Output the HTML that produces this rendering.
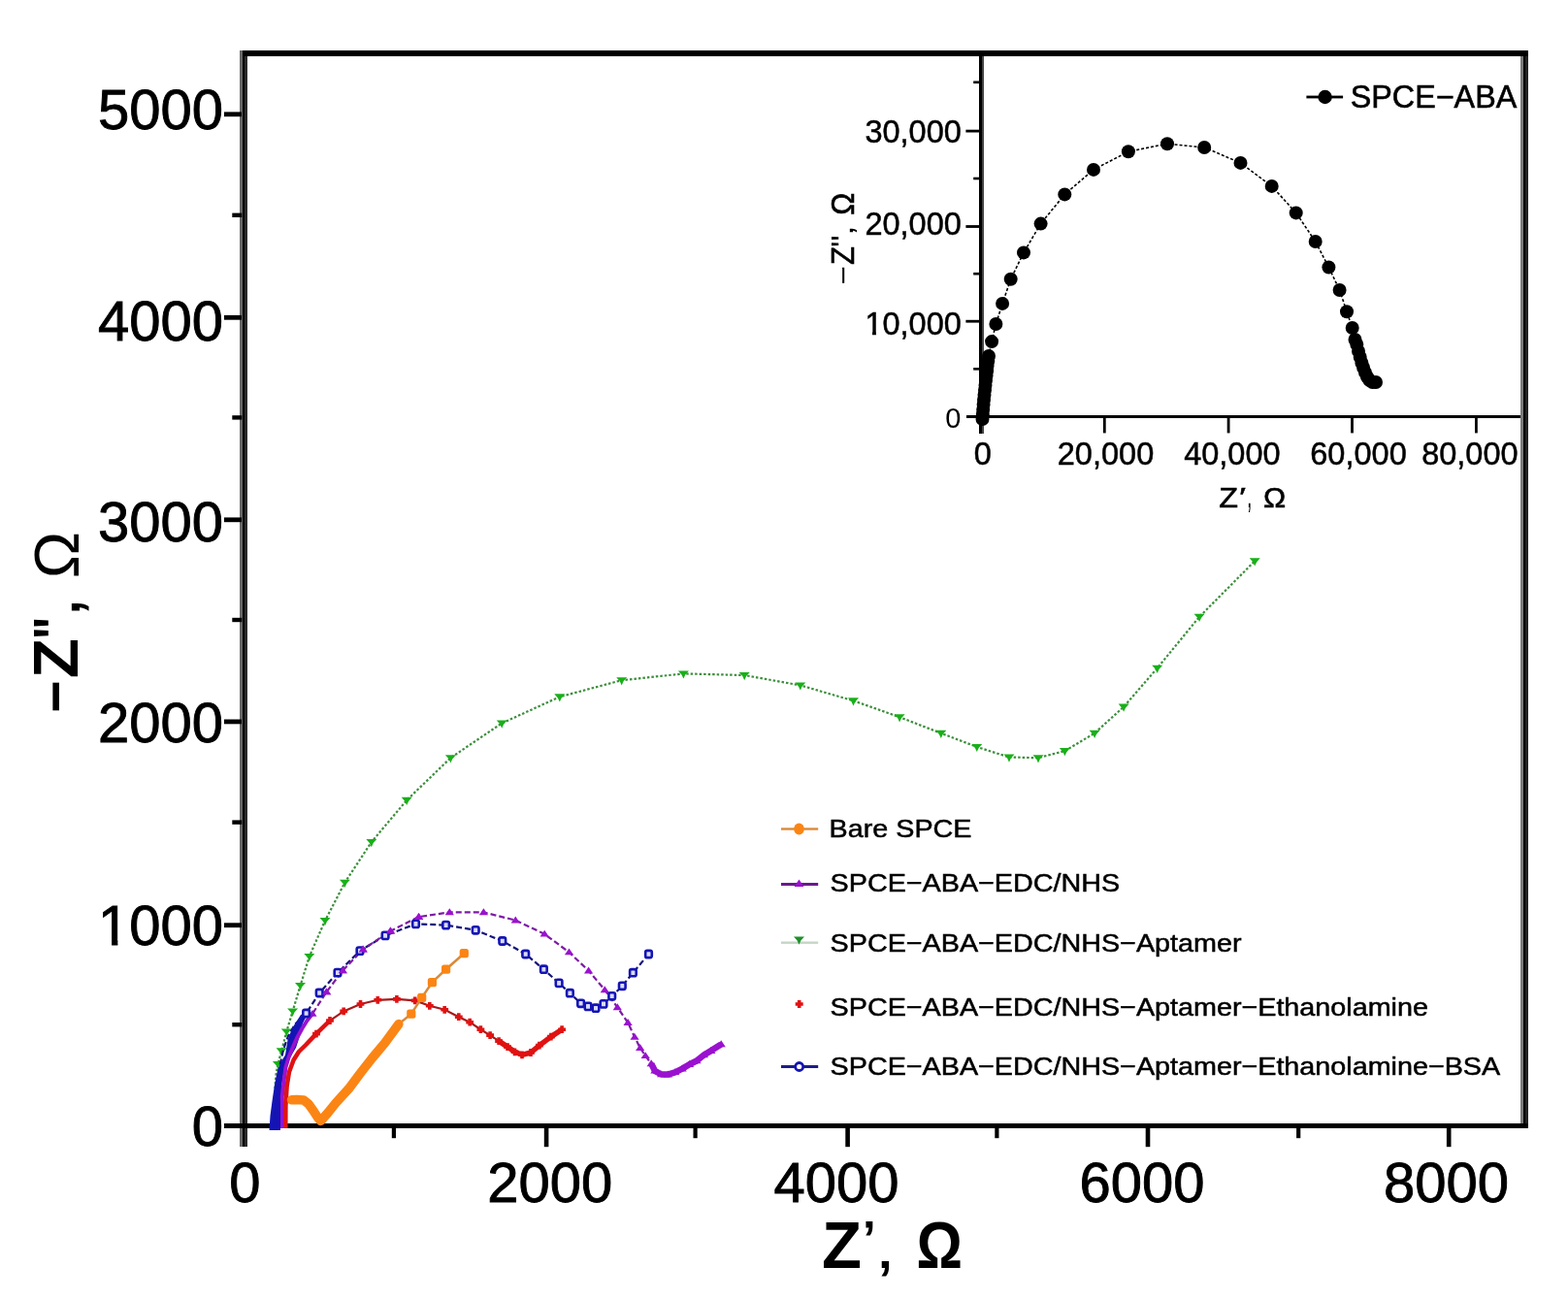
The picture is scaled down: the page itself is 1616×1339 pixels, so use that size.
<!DOCTYPE html>
<html><head><meta charset="utf-8"><title>Nyquist plot</title>
<style>html,body{margin:0;padding:0;background:#fff;overflow:hidden;}svg{display:block;}</style>
</head><body>
<svg width="1616" height="1339" viewBox="0 0 1616 1339">
<rect width="1616" height="1339" fill="#fff"/>
<rect x="247.00" y="52" width="3" height="1130" fill="#666"/><rect x="250.00" y="52" width="2" height="1130" fill="#000"/><rect x="252.00" y="52" width="3" height="1130" fill="#2a2a2a"/>
<rect x="1567.00" y="58" width="3" height="1100" fill="#7a7a7a"/><rect x="1570.00" y="58" width="2" height="1100" fill="#000"/><rect x="1572.00" y="58" width="3" height="1100" fill="#222"/>
<rect x="250" y="52" width="1325" height="6" fill="#000"/>
<rect x="231" y="1158" width="344" height="5" fill="#000"/>
<rect x="231" y="1158" width="1344" height="5" fill="#000"/>
<rect x="231" y="951.3" width="18" height="4.8" fill="#000"/>
<rect x="231" y="741.5" width="18" height="4.8" fill="#000"/>
<rect x="231" y="533.4" width="18" height="4.8" fill="#000"/>
<rect x="231" y="324.9" width="18" height="4.8" fill="#000"/>
<rect x="231" y="115.4" width="18" height="4.8" fill="#000"/>
<rect x="239.3" y="1054.0" width="10" height="4.4" fill="#000"/>
<rect x="239.3" y="845.4" width="10" height="4.4" fill="#000"/>
<rect x="239.3" y="636.8" width="10" height="4.4" fill="#000"/>
<rect x="239.3" y="428.2" width="10" height="4.4" fill="#000"/>
<rect x="239.3" y="219.6" width="10" height="4.4" fill="#000"/>
<rect x="560.8" y="1160" width="4.6" height="22.2" fill="#000"/>
<rect x="871.3" y="1160" width="4.6" height="22.2" fill="#000"/>
<rect x="1180.7" y="1160" width="4.6" height="22.2" fill="#000"/>
<rect x="1490.9" y="1160" width="4.6" height="22.2" fill="#000"/>
<rect x="403.8" y="1160" width="4.2" height="13.2" fill="#000"/>
<rect x="714.5" y="1160" width="4.2" height="13.2" fill="#000"/>
<rect x="1025.3" y="1160" width="4.2" height="13.2" fill="#000"/>
<rect x="1336.1" y="1160" width="4.2" height="13.2" fill="#000"/>
<polyline points="281.5,1158.0 283.3,1124.0 284.5,1107.4 286.4,1097.0 290.1,1083.3 295.3,1063.5 301.6,1042.5 309.5,1016.0 318.8,986.0 335.0,949.0 355.4,909.7 382.8,868.0 419.2,824.8 464.4,781.2 517.2,745.5 576.8,718.3 640.7,701.2 704.4,694.4 767.2,696.0 824.8,706.4 879.5,722.3 927.1,739.2 969.8,755.8 1006.8,769.9 1040.0,780.5 1070.0,781.2 1097.4,774.1 1128.1,755.8 1158.1,728.6 1192.7,688.7 1236.1,635.8 1293.2,578.3" fill="none" stroke="#3c8f3c" stroke-width="2.2" stroke-dasharray="2.5,2"/>
<path d="M280.9,1094.0H291.9L288.3,1098.1L286.4,1102.2L284.5,1098.1Z" fill="#18b018"/>
<path d="M284.6,1080.3H295.6L292.0,1084.4L290.1,1088.5L288.2,1084.4Z" fill="#18b018"/>
<path d="M289.8,1060.5H300.8L297.2,1064.6L295.3,1068.7L293.4,1064.6Z" fill="#18b018"/>
<path d="M296.1,1039.5H307.1L303.5,1043.6L301.6,1047.7L299.7,1043.6Z" fill="#18b018"/>
<path d="M304.0,1013.0H315.0L311.4,1017.1L309.5,1021.2L307.6,1017.1Z" fill="#18b018"/>
<path d="M313.3,983.0H324.3L320.7,987.1L318.8,991.2L316.9,987.1Z" fill="#18b018"/>
<path d="M329.5,946.0H340.5L336.9,950.1L335.0,954.2L333.1,950.1Z" fill="#18b018"/>
<path d="M349.9,906.7H360.9L357.3,910.8L355.4,914.9L353.5,910.8Z" fill="#18b018"/>
<path d="M377.3,865.0H388.3L384.7,869.1L382.8,873.2L380.9,869.1Z" fill="#18b018"/>
<path d="M413.7,821.8H424.7L421.1,825.9L419.2,830.0L417.3,825.9Z" fill="#18b018"/>
<path d="M458.9,778.2H469.9L466.3,782.3L464.4,786.4L462.5,782.3Z" fill="#18b018"/>
<path d="M511.7,742.5H522.7L519.1,746.6L517.2,750.7L515.3,746.6Z" fill="#18b018"/>
<path d="M571.3,715.3H582.3L578.7,719.4L576.8,723.5L574.9,719.4Z" fill="#18b018"/>
<path d="M635.2,698.2H646.2L642.6,702.3L640.7,706.4L638.8,702.3Z" fill="#18b018"/>
<path d="M698.9,691.4H709.9L706.3,695.5L704.4,699.6L702.5,695.5Z" fill="#18b018"/>
<path d="M761.7,693.0H772.7L769.1,697.1L767.2,701.2L765.3,697.1Z" fill="#18b018"/>
<path d="M819.3,703.4H830.3L826.7,707.5L824.8,711.6L822.9,707.5Z" fill="#18b018"/>
<path d="M874.0,719.3H885.0L881.4,723.4L879.5,727.5L877.6,723.4Z" fill="#18b018"/>
<path d="M921.6,736.2H932.6L929.0,740.3L927.1,744.4L925.2,740.3Z" fill="#18b018"/>
<path d="M964.3,752.8H975.3L971.7,756.9L969.8,761.0L967.9,756.9Z" fill="#18b018"/>
<path d="M1001.3,766.9H1012.3L1008.7,771.0L1006.8,775.1L1004.9,771.0Z" fill="#18b018"/>
<path d="M1034.5,777.5H1045.5L1041.9,781.6L1040.0,785.7L1038.1,781.6Z" fill="#18b018"/>
<path d="M1064.5,778.2H1075.5L1071.9,782.3L1070.0,786.4L1068.1,782.3Z" fill="#18b018"/>
<path d="M1091.9,771.1H1102.9L1099.3,775.2L1097.4,779.3L1095.5,775.2Z" fill="#18b018"/>
<path d="M1122.6,752.8H1133.6L1130.0,756.9L1128.1,761.0L1126.2,756.9Z" fill="#18b018"/>
<path d="M1152.6,725.6H1163.6L1160.0,729.7L1158.1,733.8L1156.2,729.7Z" fill="#18b018"/>
<path d="M1187.2,685.7H1198.2L1194.6,689.8L1192.7,693.9L1190.8,689.8Z" fill="#18b018"/>
<path d="M1230.6,632.8H1241.6L1238.0,636.9L1236.1,641.0L1234.2,636.9Z" fill="#18b018"/>
<path d="M1287.7,575.3H1298.7L1295.1,579.4L1293.2,583.5L1291.3,579.4Z" fill="#18b018"/>
<polyline points="282.0,1160.0 284.0,1135.0 286.0,1115.0 288.5,1098.0 292.0,1082.0 297.0,1068.0 304.0,1056.0 315.6,1044.5 329.2,1023.5 348.0,1002.6 371.0,980.1 397.1,964.4 428.5,952.4 459.6,953.6 490.2,958.8 517.8,970.0 541.7,983.5 560.4,999.2 576.1,1013.4 587.4,1023.7 598.6,1034.3 606.0,1037.4 614.0,1039.2 622.0,1034.9 630.7,1026.8 641.3,1016.3 652.4,1002.7 668.5,983.5" fill="none" stroke="#15157a" stroke-width="2.2" stroke-dasharray="6,3"/>
<path d="M277.5,1165 L278.5,1150 L280.5,1135 L283,1118 L286,1103 L290,1094 L294,1087.5 L296.5,1072 L301,1060 L310,1046 L318,1043 L312,1055 L309,1068 L305,1080 L300.6,1087.5 L296,1095 L292.7,1103 L290.5,1118 L290,1134.6 L289,1150 L289,1165 Z" fill="#1414b4"/>
<polyline points="291.0,1163.0 291.0,1140.0 290.8,1130.0 292.5,1115.0 294.5,1100.0 297.5,1090.0 301.6,1080.0 306.0,1070.0 311.5,1060.0 316.5,1052.0 322.0,1045.0 336.5,1022.5 353.2,1000.5 374.1,978.6 402.4,959.7 431.6,945.1 463.3,940.4 498.4,940.4 531.3,948.6 561.2,962.8 586.5,981.5 606.6,1000.6 623.3,1020.4 636.3,1038.4 647.1,1054.1 654.1,1069.0 659.7,1080.1 665.2,1088.3 671.2,1096.4 674.9,1103.8 681.6,1107.5 688.3,1107.6 695.7,1105.3 703.1,1101.6 710.5,1097.2 718.0,1093.5 725.4,1087.5 732.8,1083.1 743.2,1076.4" fill="none" stroke="#7e1aa6" stroke-width="2.2" stroke-dasharray="6,3"/>
<polyline points="291.0,1163.0 291.0,1140.0 290.8,1130.0 292.5,1115.0 294.5,1100.0 297.5,1090.0 301.6,1080.0 306.0,1070.0 311.5,1060.0 316.5,1052.0 322.0,1045.0" fill="none" stroke="#9a12cf" stroke-width="4" stroke-linejoin="round"/>
<polyline points="671.2,1096.4 674.9,1103.8 681.6,1107.5 688.3,1107.6 695.7,1105.3 703.1,1101.6 710.5,1097.2 718.0,1093.5 725.4,1087.5 732.8,1083.1 743.2,1076.4" fill="none" stroke="#9a12cf" stroke-width="6.5" stroke-linejoin="round"/>
<path d="M317.4,1047.8H326.6L322.0,1040.9Z" fill="#9a12cf"/>
<path d="M331.9,1025.3H341.1L336.5,1018.4Z" fill="#9a12cf"/>
<path d="M348.6,1003.3H357.8L353.2,996.4Z" fill="#9a12cf"/>
<path d="M369.5,981.4H378.7L374.1,974.5Z" fill="#9a12cf"/>
<path d="M397.8,962.5H407.0L402.4,955.6Z" fill="#9a12cf"/>
<path d="M427.0,947.9H436.2L431.6,941.0Z" fill="#9a12cf"/>
<path d="M458.7,943.2H467.9L463.3,936.3Z" fill="#9a12cf"/>
<path d="M493.8,943.2H503.0L498.4,936.3Z" fill="#9a12cf"/>
<path d="M526.7,951.4H535.9L531.3,944.5Z" fill="#9a12cf"/>
<path d="M556.6,965.6H565.8L561.2,958.7Z" fill="#9a12cf"/>
<path d="M581.9,984.3H591.1L586.5,977.4Z" fill="#9a12cf"/>
<path d="M602.0,1003.4H611.2L606.6,996.5Z" fill="#9a12cf"/>
<path d="M618.7,1023.2H627.9L623.3,1016.3Z" fill="#9a12cf"/>
<path d="M631.7,1041.2H640.9L636.3,1034.3Z" fill="#9a12cf"/>
<path d="M642.5,1056.9H651.7L647.1,1050.0Z" fill="#9a12cf"/>
<path d="M649.5,1071.8H658.7L654.1,1064.9Z" fill="#9a12cf"/>
<path d="M655.1,1082.9H664.3L659.7,1076.0Z" fill="#9a12cf"/>
<path d="M660.6,1091.1H669.8L665.2,1084.2Z" fill="#9a12cf"/>
<path d="M666.6,1099.2H675.8L671.2,1092.3Z" fill="#9a12cf"/>
<path d="M670.3,1106.6H679.5L674.9,1099.7Z" fill="#9a12cf"/>
<path d="M677.0,1110.3H686.2L681.6,1103.4Z" fill="#9a12cf"/>
<path d="M683.7,1110.4H692.9L688.3,1103.5Z" fill="#9a12cf"/>
<path d="M691.1,1108.1H700.3L695.7,1101.2Z" fill="#9a12cf"/>
<path d="M698.5,1104.4H707.7L703.1,1097.5Z" fill="#9a12cf"/>
<path d="M705.9,1100.0H715.1L710.5,1093.1Z" fill="#9a12cf"/>
<path d="M713.4,1096.3H722.6L718.0,1089.4Z" fill="#9a12cf"/>
<path d="M720.8,1090.3H730.0L725.4,1083.4Z" fill="#9a12cf"/>
<path d="M728.2,1085.9H737.4L732.8,1079.0Z" fill="#9a12cf"/>
<path d="M738.6,1079.2H747.8L743.2,1072.3Z" fill="#9a12cf"/>
<rect x="312.3" y="1040.9" width="6.6" height="7.2" rx="1.8" fill="#d8dafa" stroke="#1414b4" stroke-width="2.6"/>
<rect x="325.9" y="1019.9" width="6.6" height="7.2" rx="1.8" fill="#d8dafa" stroke="#1414b4" stroke-width="2.6"/>
<rect x="344.7" y="999.0" width="6.6" height="7.2" rx="1.8" fill="#d8dafa" stroke="#1414b4" stroke-width="2.6"/>
<rect x="367.7" y="976.5" width="6.6" height="7.2" rx="1.8" fill="#d8dafa" stroke="#1414b4" stroke-width="2.6"/>
<rect x="393.8" y="960.8" width="6.6" height="7.2" rx="1.8" fill="#d8dafa" stroke="#1414b4" stroke-width="2.6"/>
<rect x="425.2" y="948.8" width="6.6" height="7.2" rx="1.8" fill="#d8dafa" stroke="#1414b4" stroke-width="2.6"/>
<rect x="456.3" y="950.0" width="6.6" height="7.2" rx="1.8" fill="#d8dafa" stroke="#1414b4" stroke-width="2.6"/>
<rect x="486.9" y="955.2" width="6.6" height="7.2" rx="1.8" fill="#d8dafa" stroke="#1414b4" stroke-width="2.6"/>
<rect x="514.5" y="966.4" width="6.6" height="7.2" rx="1.8" fill="#d8dafa" stroke="#1414b4" stroke-width="2.6"/>
<rect x="538.4" y="979.9" width="6.6" height="7.2" rx="1.8" fill="#d8dafa" stroke="#1414b4" stroke-width="2.6"/>
<rect x="557.1" y="995.6" width="6.6" height="7.2" rx="1.8" fill="#d8dafa" stroke="#1414b4" stroke-width="2.6"/>
<rect x="572.8" y="1009.8" width="6.6" height="7.2" rx="1.8" fill="#d8dafa" stroke="#1414b4" stroke-width="2.6"/>
<rect x="584.1" y="1020.1" width="6.6" height="7.2" rx="1.8" fill="#d8dafa" stroke="#1414b4" stroke-width="2.6"/>
<rect x="595.3" y="1030.7" width="6.6" height="7.2" rx="1.8" fill="#d8dafa" stroke="#1414b4" stroke-width="2.6"/>
<rect x="602.7" y="1033.8" width="6.6" height="7.2" rx="1.8" fill="#d8dafa" stroke="#1414b4" stroke-width="2.6"/>
<rect x="610.7" y="1035.6" width="6.6" height="7.2" rx="1.8" fill="#d8dafa" stroke="#1414b4" stroke-width="2.6"/>
<rect x="618.7" y="1031.3" width="6.6" height="7.2" rx="1.8" fill="#d8dafa" stroke="#1414b4" stroke-width="2.6"/>
<rect x="627.4" y="1023.2" width="6.6" height="7.2" rx="1.8" fill="#d8dafa" stroke="#1414b4" stroke-width="2.6"/>
<rect x="638.0" y="1012.7" width="6.6" height="7.2" rx="1.8" fill="#d8dafa" stroke="#1414b4" stroke-width="2.6"/>
<rect x="649.1" y="999.1" width="6.6" height="7.2" rx="1.8" fill="#d8dafa" stroke="#1414b4" stroke-width="2.6"/>
<rect x="665.2" y="979.9" width="6.6" height="7.2" rx="1.8" fill="#d8dafa" stroke="#1414b4" stroke-width="2.6"/>
<path d="M331.9,1025.3H341.1L336.5,1018.4Z" fill="#9a12cf"/>
<path d="M348.6,1003.3H357.8L353.2,996.4Z" fill="#9a12cf"/>
<path d="M369.5,981.4H378.7L374.1,974.5Z" fill="#9a12cf"/>
<path d="M397.8,962.5H407.0L402.4,955.6Z" fill="#9a12cf"/>
<path d="M427.0,947.9H436.2L431.6,941.0Z" fill="#9a12cf"/>
<polyline points="294.3,1163.0 294.4,1140.0 295.6,1120.0 298.0,1105.0 302.5,1092.7 308.0,1084.0 315.2,1077.0 326.0,1065.6 340.0,1052.0 354.2,1042.4 371.5,1035.0 389.3,1030.8 408.9,1029.9 427.7,1031.4 442.8,1036.8 458.2,1040.8 472.8,1048.2 484.2,1053.7 495.4,1061.2 505.1,1067.1 514.1,1073.1 523.1,1079.1 530.5,1084.3 538.0,1087.3 547.0,1085.0 555.9,1077.6 567.9,1068.6 579.1,1061.2" fill="none" stroke="#a81a1a" stroke-width="2.2"/>
<polyline points="294.3,1163.0 294.4,1140.0 295.6,1120.0 298.0,1105.0 302.5,1092.7 308.0,1084.0 315.2,1077.0 326.0,1065.6 340.0,1052.0" fill="none" stroke="#e01212" stroke-width="4.5" stroke-linejoin="round"/>
<polyline points="514.1,1073.1 523.1,1079.1 530.5,1084.3 538.0,1087.3 547.0,1085.0 555.9,1077.6 567.9,1068.6 579.1,1061.2" fill="none" stroke="#e01212" stroke-width="5.5" stroke-linejoin="round"/>
<path d="M324.2,1061.7H327.8V1063.8H329.9V1067.4H327.8V1069.5H324.2V1067.4H322.1V1063.8H324.2Z" fill="#e01212"/>
<path d="M338.2,1048.1H341.8V1050.2H343.9V1053.8H341.8V1055.9H338.2V1053.8H336.1V1050.2H338.2Z" fill="#e01212"/>
<path d="M352.4,1038.5H356.0V1040.6H358.1V1044.2H356.0V1046.3H352.4V1044.2H350.3V1040.6H352.4Z" fill="#e01212"/>
<path d="M369.7,1031.1H373.3V1033.2H375.4V1036.8H373.3V1038.9H369.7V1036.8H367.6V1033.2H369.7Z" fill="#e01212"/>
<path d="M387.5,1026.9H391.1V1029.0H393.2V1032.6H391.1V1034.7H387.5V1032.6H385.4V1029.0H387.5Z" fill="#e01212"/>
<path d="M407.1,1026.0H410.7V1028.1H412.8V1031.7H410.7V1033.8H407.1V1031.7H405.0V1028.1H407.1Z" fill="#e01212"/>
<path d="M425.9,1027.5H429.5V1029.6H431.6V1033.2H429.5V1035.3H425.9V1033.2H423.8V1029.6H425.9Z" fill="#e01212"/>
<path d="M441.0,1032.9H444.6V1035.0H446.7V1038.6H444.6V1040.7H441.0V1038.6H438.9V1035.0H441.0Z" fill="#e01212"/>
<path d="M456.4,1036.9H460.0V1039.0H462.1V1042.6H460.0V1044.7H456.4V1042.6H454.3V1039.0H456.4Z" fill="#e01212"/>
<path d="M471.0,1044.3H474.6V1046.4H476.7V1050.0H474.6V1052.1H471.0V1050.0H468.9V1046.4H471.0Z" fill="#e01212"/>
<path d="M482.4,1049.8H486.0V1051.9H488.1V1055.5H486.0V1057.6H482.4V1055.5H480.3V1051.9H482.4Z" fill="#e01212"/>
<path d="M493.6,1057.3H497.2V1059.4H499.3V1063.0H497.2V1065.1H493.6V1063.0H491.5V1059.4H493.6Z" fill="#e01212"/>
<path d="M503.3,1063.2H506.9V1065.3H509.0V1068.9H506.9V1071.0H503.3V1068.9H501.2V1065.3H503.3Z" fill="#e01212"/>
<path d="M512.3,1069.2H515.9V1071.3H518.0V1074.9H515.9V1077.0H512.3V1074.9H510.2V1071.3H512.3Z" fill="#e01212"/>
<path d="M521.3,1075.2H524.9V1077.3H527.0V1080.9H524.9V1083.0H521.3V1080.9H519.2V1077.3H521.3Z" fill="#e01212"/>
<path d="M528.7,1080.4H532.3V1082.5H534.4V1086.1H532.3V1088.2H528.7V1086.1H526.6V1082.5H528.7Z" fill="#e01212"/>
<path d="M536.2,1083.4H539.8V1085.5H541.9V1089.1H539.8V1091.2H536.2V1089.1H534.1V1085.5H536.2Z" fill="#e01212"/>
<path d="M545.2,1081.1H548.8V1083.2H550.9V1086.8H548.8V1088.9H545.2V1086.8H543.1V1083.2H545.2Z" fill="#e01212"/>
<path d="M554.1,1073.7H557.7V1075.8H559.8V1079.4H557.7V1081.5H554.1V1079.4H552.0V1075.8H554.1Z" fill="#e01212"/>
<path d="M566.1,1064.7H569.7V1066.8H571.8V1070.4H569.7V1072.5H566.1V1070.4H564.0V1066.8H566.1Z" fill="#e01212"/>
<path d="M577.3,1057.3H580.9V1059.4H583.0V1063.0H580.9V1065.1H577.3V1063.0H575.2V1059.4H577.3Z" fill="#e01212"/>
<polyline points="300.5,1133.7 306.0,1133.5 313.0,1134.0 318.0,1138.0 323.0,1145.0 327.5,1152.0 330.5,1155.5 338.0,1147.0 346.1,1136.9 359.4,1122.3 371.1,1106.6 383.4,1090.9 396.5,1075.2 410.9,1055.6 423.8,1045.2 434.7,1028.4 445.4,1012.6 459.6,999.2 478.3,982.7" fill="none" stroke="#d98a3a" stroke-width="2.5"/>
<polyline points="300.5,1133.7 306.0,1133.5 313.0,1134.0 318.0,1138.0 323.0,1145.0 327.5,1152.0 330.5,1155.5 338.0,1147.0 346.1,1136.9 359.4,1122.3 371.1,1106.6 383.4,1090.9 396.5,1075.2 410.9,1055.6" fill="none" stroke="#fb8514" stroke-width="9.5" stroke-linejoin="round" stroke-linecap="round"/>
<rect x="419.2" y="1040.6" width="9.2" height="9.2" rx="2.5" fill="#fb8514"/>
<rect x="430.1" y="1023.8" width="9.2" height="9.2" rx="2.5" fill="#fb8514"/>
<rect x="440.8" y="1008.0" width="9.2" height="9.2" rx="2.5" fill="#fb8514"/>
<rect x="455.0" y="994.6" width="9.2" height="9.2" rx="2.5" fill="#fb8514"/>
<rect x="473.7" y="978.1" width="9.2" height="9.2" rx="2.5" fill="#fb8514"/>
<g font-family='"Liberation Sans", Arial, Helvetica, sans-serif' fill="#000">
<text x="230.1" y="1181.2" font-size="58" text-anchor="end" stroke="#000" stroke-width="0.9">0</text>
<clipPath id="c1a"><path clip-rule="evenodd" d="M0,0H1616V1339H0Z M103.59,968.24H115.11V976.90H103.59Z M121.33,968.24H132.27V976.90H121.33Z"/></clipPath>
<text x="230.1" y="973.9" font-size="58" text-anchor="end" stroke="#000" stroke-width="0.9" clip-path="url(#c1a)">1000</text>
<text x="230.1" y="764.6" font-size="58" text-anchor="end" stroke="#000" stroke-width="0.9">2000</text>
<text x="230.1" y="557.6" font-size="58" text-anchor="end" stroke="#000" stroke-width="0.9">3000</text>
<text x="230.1" y="350.6" font-size="58" text-anchor="end" stroke="#000" stroke-width="0.9">4000</text>
<text x="230.1" y="132.8" font-size="58" text-anchor="end" stroke="#000" stroke-width="0.9">5000</text>
<text x="252.3" y="1238.9" font-size="58" text-anchor="middle" stroke="#000" stroke-width="0.9">0</text>
<text x="566.7" y="1238.9" font-size="58" text-anchor="middle" stroke="#000" stroke-width="0.9">2000</text>
<text x="862.1" y="1238.9" font-size="58" text-anchor="middle" stroke="#000" stroke-width="0.9">4000</text>
<text x="1177" y="1238.9" font-size="58" text-anchor="middle" stroke="#000" stroke-width="0.9">6000</text>
<text x="1490.5" y="1238.9" font-size="58" text-anchor="middle" stroke="#000" stroke-width="0.9">8000</text>
<text transform="translate(846.89,1306.90) scale(0.9866,1.0124)" font-size="68" font-weight="bold">Z</text>
<text transform="translate(889.05,1294.89) scale(0.7248,0.7563)" font-size="68" font-weight="bold">’</text>
<text transform="translate(901.40,1307.26) scale(1.1455,0.9463)" font-size="68">,</text>
<text transform="translate(944.53,1306.90) scale(0.8701,0.9979)" font-size="68" font-weight="bold">Ω</text>
<text transform="translate(72.47,736.82) rotate(-90) scale(1.7647,0.8724)" font-size="64" font-weight="bold">-</text>
<text transform="translate(80.40,699.33) rotate(-90) scale(1.0568,1.0190)" font-size="64" font-weight="bold">Z</text>
<text transform="translate(75.97,659.26) rotate(-90) scale(0.7835,0.9188)" font-size="64" font-weight="bold">&quot;</text>
<text transform="translate(81.50,636.70) rotate(-90) scale(1.2171,1.1753)" font-size="64">,</text>
<text transform="translate(80.70,596.21) rotate(-90) scale(1.0109,1.0067)" font-size="64">Ω</text>
<text transform="translate(854.61,863.1) scale(1.0890,1)" font-size="26.4" stroke="#000" stroke-width="0.5">Bare SPCE</text>
<text transform="translate(855.56,919.3) scale(1.0890,1)" font-size="26.4" stroke="#000" stroke-width="0.5">SPCE&#8722;ABA&#8722;EDC/NHS</text>
<text transform="translate(855.56,981.0) scale(1.0890,1)" font-size="26.4" stroke="#000" stroke-width="0.5">SPCE&#8722;ABA&#8722;EDC/NHS&#8722;Aptamer</text>
<text transform="translate(855.56,1047.1) scale(1.0890,1)" font-size="26.4" stroke="#000" stroke-width="0.5">SPCE&#8722;ABA&#8722;EDC/NHS&#8722;Aptamer&#8722;Ethanolamine</text>
<text transform="translate(855.56,1107.7) scale(1.0890,1)" font-size="26.4" stroke="#000" stroke-width="0.5">SPCE&#8722;ABA&#8722;EDC/NHS&#8722;Aptamer&#8722;Ethanolamine&#8722;BSA</text>
</g>
<rect x="805" y="853.3" width="38.2" height="2.4" fill="#d98a3a"/>
<ellipse cx="823.5" cy="854.5" rx="5.3" ry="6" fill="#fb8514"/>
<rect x="805" y="910.0" width="38.2" height="3" fill="#6a1a8e"/>
<path d="M818.5,914.0H828.5L823.5,906.5Z" fill="#9a12cf"/>
<rect x="805" y="970.5" width="38.2" height="2.4" fill="#c6d6c6"/>
<path d="M818.0,965.5H829.0L825.4,969.6L823.5,973.7L821.6,969.6Z" fill="#1f8f2a"/>
<path d="M821.9,1031.0H825.5V1033.2H827.7V1036.8H825.5V1039.0H821.9V1036.8H819.7V1033.2H821.9Z" fill="#e01212"/>
<rect x="805" y="1098.0" width="38.2" height="3" fill="#1c1c8a"/>
<circle cx="823.7" cy="1099.5" r="4" fill="#fff" stroke="#1414b4" stroke-width="2.8"/>
<rect x="1009.00" y="58" width="3" height="389" fill="#000"/><rect x="1012.00" y="58" width="2" height="389" fill="#444"/>
<rect x="996" y="428" width="571" height="3" fill="#000"/>
<rect x="995.4" y="329.8" width="15" height="2.8" fill="#000"/>
<rect x="995.4" y="232.1" width="15" height="2.8" fill="#000"/>
<rect x="995.4" y="133.7" width="15" height="2.8" fill="#000"/>
<rect x="1003.2" y="379.0" width="7" height="2.6" fill="#000"/>
<rect x="1003.2" y="280.9" width="7" height="2.6" fill="#000"/>
<rect x="1003.2" y="182.7" width="7" height="2.6" fill="#000"/>
<rect x="1003.2" y="83.5" width="7" height="2.6" fill="#000"/>
<rect x="1136.9" y="429" width="2.8" height="17.4" fill="#000"/>
<rect x="1264.7" y="429" width="2.8" height="17.4" fill="#000"/>
<rect x="1392.1" y="429" width="2.8" height="17.4" fill="#000"/>
<rect x="1520.0" y="429" width="2.8" height="17.4" fill="#000"/>
<polyline points="1012.5,432.0 1012.8,427.0 1013.2,422.0 1013.6,417.0 1014.0,412.0 1014.5,407.0 1015.0,402.0 1015.5,397.0 1016.0,392.0 1016.6,387.0 1017.2,382.0 1017.6,377.0 1018.3,372.0 1019.0,367.0 1022.1,352.1 1026.4,334.0 1033.1,312.9 1041.7,287.8 1055.0,260.4 1072.6,230.6 1097.3,200.4 1127.0,174.9 1162.9,156.3 1203.0,148.2 1241.2,152.0 1278.5,167.9 1310.7,191.9 1335.7,219.4 1355.7,249.0 1369.4,275.5 1380.6,299.0 1388.0,321.2 1393.7,338.0 1396.5,350.0 1398.3,355.0 1400.0,362.0 1401.7,368.0 1403.4,374.0 1405.1,379.0 1407.0,384.0 1409.0,388.5 1411.5,392.0 1414.5,394.0 1418.0,394.0" fill="none" stroke="#000" stroke-width="1.6" stroke-dasharray="3,2"/>
<circle cx="1012.5" cy="432.0" r="7" fill="#000"/>
<circle cx="1012.8" cy="427.0" r="7" fill="#000"/>
<circle cx="1013.2" cy="422.0" r="7" fill="#000"/>
<circle cx="1013.6" cy="417.0" r="7" fill="#000"/>
<circle cx="1014.0" cy="412.0" r="7" fill="#000"/>
<circle cx="1014.5" cy="407.0" r="7" fill="#000"/>
<circle cx="1015.0" cy="402.0" r="7" fill="#000"/>
<circle cx="1015.5" cy="397.0" r="7" fill="#000"/>
<circle cx="1016.0" cy="392.0" r="7" fill="#000"/>
<circle cx="1016.6" cy="387.0" r="7" fill="#000"/>
<circle cx="1017.2" cy="382.0" r="7" fill="#000"/>
<circle cx="1017.6" cy="377.0" r="7" fill="#000"/>
<circle cx="1018.3" cy="372.0" r="7" fill="#000"/>
<circle cx="1019.0" cy="367.0" r="7" fill="#000"/>
<circle cx="1022.1" cy="352.1" r="7" fill="#000"/>
<circle cx="1026.4" cy="334.0" r="7" fill="#000"/>
<circle cx="1033.1" cy="312.9" r="7" fill="#000"/>
<circle cx="1041.7" cy="287.8" r="7" fill="#000"/>
<circle cx="1055.0" cy="260.4" r="7" fill="#000"/>
<circle cx="1072.6" cy="230.6" r="7" fill="#000"/>
<circle cx="1097.3" cy="200.4" r="7" fill="#000"/>
<circle cx="1127.0" cy="174.9" r="7" fill="#000"/>
<circle cx="1162.9" cy="156.3" r="7" fill="#000"/>
<circle cx="1203.0" cy="148.2" r="7" fill="#000"/>
<circle cx="1241.2" cy="152.0" r="7" fill="#000"/>
<circle cx="1278.5" cy="167.9" r="7" fill="#000"/>
<circle cx="1310.7" cy="191.9" r="7" fill="#000"/>
<circle cx="1335.7" cy="219.4" r="7" fill="#000"/>
<circle cx="1355.7" cy="249.0" r="7" fill="#000"/>
<circle cx="1369.4" cy="275.5" r="7" fill="#000"/>
<circle cx="1380.6" cy="299.0" r="7" fill="#000"/>
<circle cx="1388.0" cy="321.2" r="7" fill="#000"/>
<circle cx="1393.7" cy="338.0" r="7" fill="#000"/>
<circle cx="1396.5" cy="350.0" r="7" fill="#000"/>
<circle cx="1398.3" cy="355.0" r="7" fill="#000"/>
<circle cx="1400.0" cy="362.0" r="7" fill="#000"/>
<circle cx="1401.7" cy="368.0" r="7" fill="#000"/>
<circle cx="1403.4" cy="374.0" r="7" fill="#000"/>
<circle cx="1405.1" cy="379.0" r="7" fill="#000"/>
<circle cx="1407.0" cy="384.0" r="7" fill="#000"/>
<circle cx="1409.0" cy="388.5" r="7" fill="#000"/>
<circle cx="1411.5" cy="392.0" r="7" fill="#000"/>
<circle cx="1414.5" cy="394.0" r="7" fill="#000"/>
<circle cx="1418.0" cy="394.0" r="7" fill="#000"/>
<g font-family='"Liberation Sans", Arial, Helvetica, sans-serif' fill="#000">
<text x="990.80" y="147.2" font-size="32.5" text-anchor="end" stroke="#000" stroke-width="0.5">30,000</text>
<text x="990.80" y="241.9" font-size="32.5" text-anchor="end" stroke="#000" stroke-width="0.5">20,000</text>
<clipPath id="c1b"><path clip-rule="evenodd" d="M0,0H1616V1339H0Z M892.37,341.52H899.04V348.40H892.37Z M902.96,341.52H909.31V348.40H902.96Z"/></clipPath>
<text x="990.80" y="345.4" font-size="32.5" text-anchor="end" stroke="#000" stroke-width="0.5" clip-path="url(#c1b)">10,000</text>
<text x="990.36" y="440.7" font-size="29" text-anchor="end">0</text>
<text x="1012.75" y="478.6" font-size="32.5" text-anchor="middle" stroke="#000" stroke-width="0.5">0</text>
<text x="1139.5" y="478.6" font-size="32.5" text-anchor="middle" stroke="#000" stroke-width="0.5">20,000</text>
<text x="1269.85" y="478.6" font-size="32.5" text-anchor="middle" stroke="#000" stroke-width="0.5">40,000</text>
<text x="1400" y="478.6" font-size="32.5" text-anchor="middle" stroke="#000" stroke-width="0.5">60,000</text>
<text x="1514.85" y="478.6" font-size="32.5" text-anchor="middle" stroke="#000" stroke-width="0.5">80,000</text>
<text transform="translate(1256.23,523.00) scale(1.0788,0.9952)" font-size="30" stroke="#000" stroke-width="0.6">Z</text>
<text transform="translate(1277.26,520.53) scale(1.2000,0.8758)" font-size="30" stroke="#000" stroke-width="0.6">′</text>
<text transform="translate(1285.20,523.09) scale(0.5965,1.3623)" font-size="30">,</text>
<text transform="translate(1302.10,523.00) scale(1.0354,0.9810)" font-size="30" stroke="#000" stroke-width="0.6">Ω</text>
<text transform="translate(874.56,294.06) rotate(-90) scale(1.9133,0.7031)" font-size="32" stroke="#000" stroke-width="0.6">-</text>
<text transform="translate(880.20,272.93) rotate(-90) scale(0.9716,1.0507)" font-size="32" stroke="#000" stroke-width="0.6">Z</text>
<text transform="translate(880.11,254.66) rotate(-90) scale(1.0849,1.0465)" font-size="32">&quot;</text>
<text transform="translate(879.40,242.70) rotate(-90) scale(1.1513,0.9239)" font-size="32">,</text>
<text transform="translate(880.20,221.69) rotate(-90) scale(0.9659,1.0357)" font-size="32" stroke="#000" stroke-width="0.6">Ω</text>
<text transform="translate(1391.75,111.17) scale(0.9944,1.0054)" font-size="32.5" stroke="#000" stroke-width="0.6">SPCE−ABA</text>
</g>
<rect x="1346.4" y="98.6" width="37.7" height="2.8" fill="#000"/>
<circle cx="1365.6" cy="100" r="7.2" fill="#000"/>
</svg>
</body></html>
